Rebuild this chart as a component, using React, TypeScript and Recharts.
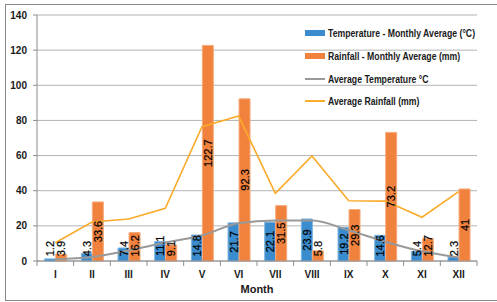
import { ComposedChart, Bar, Line, XAxis, YAxis, CartesianGrid, Legend, LabelList } from 'recharts';

const months = ['I', 'II', 'III', 'IV', 'V', 'VI', 'VII', 'VIII', 'IX', 'X', 'XI', 'XII'];
const tempMonthly = [1.2, 4.3, 7.4, 11.1, 14.8, 21.7, 22.1, 23.9, 19.2, 14.6, 5.4, 2.3];
const rainMonthly = [3.9, 33.6, 16.2, 9.1, 122.7, 92.3, 31.5, 5.8, 29.3, 73.2, 12.7, 41];
const tempAverage = [1, 2.3, 6, 10.5, 14.5, 21.5, 23, 23, 17.5, 11, 5.5, 2];
const rainAverage = [10.4, 22.2, 23.9, 30, 76.4, 82.5, 38.5, 59.8, 34.3, 34.1, 24.9, 39.5];
const yTicks = [0, 20, 40, 60, 80, 100, 120, 140];
const seriesOrder = ['tempMonthly', 'rainMonthly', 'tempAverage', 'rainAverage'];

const data = months.map((m, i) => ({
  month: m,
  tempMonthly: tempMonthly[i],
  rainMonthly: rainMonthly[i],
  tempAverage: tempAverage[i],
  rainAverage: rainAverage[i],
}));

const BLUE = '#3a8ccf';
const ORANGE = '#f0823e';
const GREY_LINE = '#999999';
const YELLOW = '#fbab2b';
const TEXT = '#1a1a1a';
const FONT = '"Liberation Sans", Arial, sans-serif';

const BarValueLabel = (props: any) => {
  const { x, y, width, height, value } = props;
  const text = String(value);
  const len = text.length * 5.6;
  const base = Number(y) + Number(height);
  const cx = Number(x) + Number(width) / 2;
  const cy = Math.min(Number(y) + Number(height) / 2, base - 4 - len / 2);
  return (
    <text
      x={cx}
      y={cy}
      transform={`rotate(-90 ${cx} ${cy})`}
      textAnchor="middle"
      dominantBaseline="central"
      fontSize={11}
      fontFamily={FONT}
      fill="#000"
      stroke="#000"
      strokeWidth={0.2}
    >
      {text}
    </text>
  );
};

const MonthTick = (props: any) => {
  const { x, y, payload, index } = props;
  const half = payload.offset || 18.3;
  return (
    <g>
      <line x1={x - half} x2={x - half} y1={y - 8} y2={y - 3} stroke="#8c8c8c" />
      {index === months.length - 1 && (
        <line x1={x + half} x2={x + half} y1={y - 8} y2={y - 3} stroke="#8c8c8c" />
      )}
      <text x={x} y={y + 9} textAnchor="middle" fontSize={10} fontWeight="bold" fontFamily={FONT} fill={TEXT}>
        {payload.value}
      </text>
    </g>
  );
};

const renderLegend = (props: any) => {
  const payload = [...(props.payload || [])].sort(
    (a: any, b: any) => seriesOrder.indexOf(a.dataKey) - seriesOrder.indexOf(b.dataKey)
  );
  return (
    <div style={{ display: 'flex', flexDirection: 'column', width: 172 }}>
      {payload.map((entry: any, i: number) => (
        <div key={`legend-${i}`} style={{ display: 'flex', alignItems: 'center', height: 22.7 }}>
          <span
            style={{
              display: 'inline-block',
              flex: 'none',
              width: 20,
              height: entry.type === 'rect' ? 6 : 2,
              background: entry.color,
            }}
          />
          <span
            style={{
              marginLeft: 3,
              fontFamily: FONT,
              fontSize: 11,
              fontWeight: 'bold',
              color: TEXT,
              whiteSpace: 'nowrap',
              display: 'inline-block',
              transform: 'scaleX(0.79)',
              transformOrigin: 'left center',
            }}
          >
            {entry.value}
          </span>
        </div>
      ))}
    </div>
  );
};

export default function App() {
  return (
    <div style={{ position: 'absolute', left: 0, top: 0, width: 497, height: 302, background: '#fff', overflow: 'hidden' }}>
      <div
        style={{
          position: 'absolute',
          left: 5,
          top: 4,
          width: 492,
          height: 297,
          boxSizing: 'border-box',
          border: '1px solid #8a8a8a',
          borderRight: 'none',
        }}
      />
      <div style={{ position: 'absolute', left: 0, top: 0 }}>
        <ComposedChart
          width={497}
          height={302}
          data={data}
          margin={{ top: 15, right: 20, left: 0, bottom: 11 }}
          barGap={0}
          barCategoryGap="21%"
        >
          <CartesianGrid vertical={false} stroke="#b3b3b3" />
          <XAxis
            dataKey="month"
            height={30}
            axisLine={{ stroke: '#8c8c8c' }}
            tickLine={false}
            tickSize={5}
            tickMargin={3}
            tick={<MonthTick />}
            interval={0}
            label={{
              value: 'Month',
              position: 'insideBottom',
              offset: -2,
              style: { fontFamily: FONT, fontSize: 11, fontWeight: 'bold', fill: TEXT },
            }}
          />
          <YAxis
            width={37}
            domain={[0, 140]}
            ticks={yTicks}
            interval={0}
            axisLine={{ stroke: '#8c8c8c' }}
            tickLine={{ stroke: '#8c8c8c' }}
            tickSize={4}
            tickMargin={6}
            tick={{ fontFamily: FONT, fontSize: 10, fontWeight: 'bold', fill: TEXT }}
          />
          <Legend
            layout="vertical"
            align="center"
            verticalAlign="middle"
            content={renderLegend}
            wrapperStyle={{ position: 'absolute', top: 22, left: 305, width: 'auto', height: 'auto' }}
          />
          <Bar
            dataKey="tempMonthly"
            name="Temperature - Monthly Average (°C)"
            fill={BLUE}
            stroke="#7db3df"
            strokeWidth={1}
            isAnimationActive={false}
          >
            <LabelList dataKey="tempMonthly" content={<BarValueLabel />} />
          </Bar>
          <Bar
            dataKey="rainMonthly"
            name="Rainfall - Monthly Average (mm)"
            fill={ORANGE}
            stroke="#f6ab7c"
            strokeWidth={1}
            isAnimationActive={false}
          >
            <LabelList dataKey="rainMonthly" content={<BarValueLabel />} />
          </Bar>
          <Line
            dataKey="tempAverage"
            name="Average Temperature °C"
            type="monotone"
            stroke={GREY_LINE}
            strokeWidth={2}
            dot={false}
            isAnimationActive={false}
          />
          <Line
            dataKey="rainAverage"
            name="Average Rainfall (mm)"
            type="linear"
            stroke={YELLOW}
            strokeWidth={1.6}
            dot={false}
            isAnimationActive={false}
          />
        </ComposedChart>
      </div>
    </div>
  );
}
